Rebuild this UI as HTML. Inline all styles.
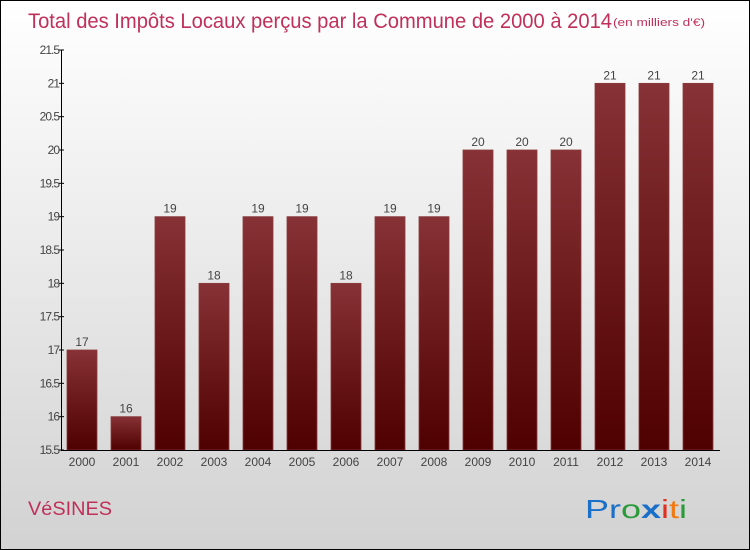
<!DOCTYPE html>
<html><head><meta charset="utf-8"><style>
body{margin:0;}
#wrap{position:relative;width:748px;height:548px;border:1px solid #000;background:linear-gradient(#ffffff,#d2d2d2);font-family:"Liberation Sans",sans-serif;overflow:hidden;}
</style></head><body>
<div id="wrap">
<svg width="748" height="548" xmlns="http://www.w3.org/2000/svg">
<defs><linearGradient id="bg" x1="0" y1="0" x2="0" y2="1"><stop offset="0" stop-color="#873236"/><stop offset="1" stop-color="#4f0000"/></linearGradient></defs>
<text x="27" y="27" font-size="21" fill="#c0305a" textLength="584" lengthAdjust="spacingAndGlyphs">Total des Impôts Locaux perçus par la Commune de 2000 à 2014</text>
<text x="612" y="25" font-size="11" fill="#c0305a" textLength="92" lengthAdjust="spacingAndGlyphs">(en milliers d'€)</text>
<g id="bars"></g>
<g id="axes"></g>
<text x="27" y="514" font-size="19" fill="#c0305a" textLength="84" lengthAdjust="spacingAndGlyphs">VéSINES</text>
<text x="584" y="517" font-size="26" textLength="102" lengthAdjust="spacingAndGlyphs"><tspan fill="#1a6fc8">Pr</tspan><tspan fill="#2a9a3a">o</tspan><tspan fill="#1a6fc8" font-weight="bold">x</tspan><tspan fill="#e03020">i</tspan><tspan fill="#f07a10">t</tspan><tspan fill="#2a9a3a">i</tspan></text>
</svg>
</div>
<script>
const categories=["2000","2001","2002","2003","2004","2005","2006","2007","2008","2009","2010","2011","2012","2013","2014"];
const values=[17,16,19,18,19,19,18,19,19,20,20,20,21,21,21];
const yTicks=[15.5,16,16.5,17,17.5,18,18.5,19,19.5,20,20.5,21,21.5];
const NS="http://www.w3.org/2000/svg";
const y0=449,y1=49,vmin=15.5,vmax=21.5;
const yS=v=>y0-(v-vmin)/(vmax-vmin)*(y0-y1);
const xS=i=>81+i*44;
const bars=document.getElementById('bars'),axes=document.getElementById('axes');
function mk(t,a,p){const e=document.createElementNS(NS,t);for(const k in a)e.setAttribute(k,a[k]);p.appendChild(e);return e;}
values.forEach((v,i)=>{
const r=mk('rect',{x:xS(i)-15,y:yS(v),width:30,height:y0-yS(v),fill:'url(#bg)',stroke:'#8a3a3e','stroke-width':0.8},bars);


const t=mk('text',{x:xS(i),y:yS(v)-4,'font-size':12,fill:'#444','text-anchor':'middle'},bars);t.textContent=v;


const c=mk('text',{x:xS(i),y:y0+16,'font-size':12,fill:'#444','text-anchor':'middle'},axes);c.textContent=categories[i];


});
const ya=mk('line',{x1:60.5,y1:y1,x2:60.5,y2:y0+1,stroke:'#000'},axes);


const xa=mk('line',{x1:60,y1:y0+0.5,x2:719,y2:y0+0.5,stroke:'#000'},axes);


yTicks.forEach(v=>{
mk('line',{x1:58,y1:yS(v),x2:63,y2:yS(v),stroke:'#000'},axes);
const t=mk('text',{x:58,y:yS(v)+4,'font-size':12,fill:'#444','text-anchor':'end','letter-spacing':'-1'},axes);t.textContent=v;


});
</script>
</body></html>
